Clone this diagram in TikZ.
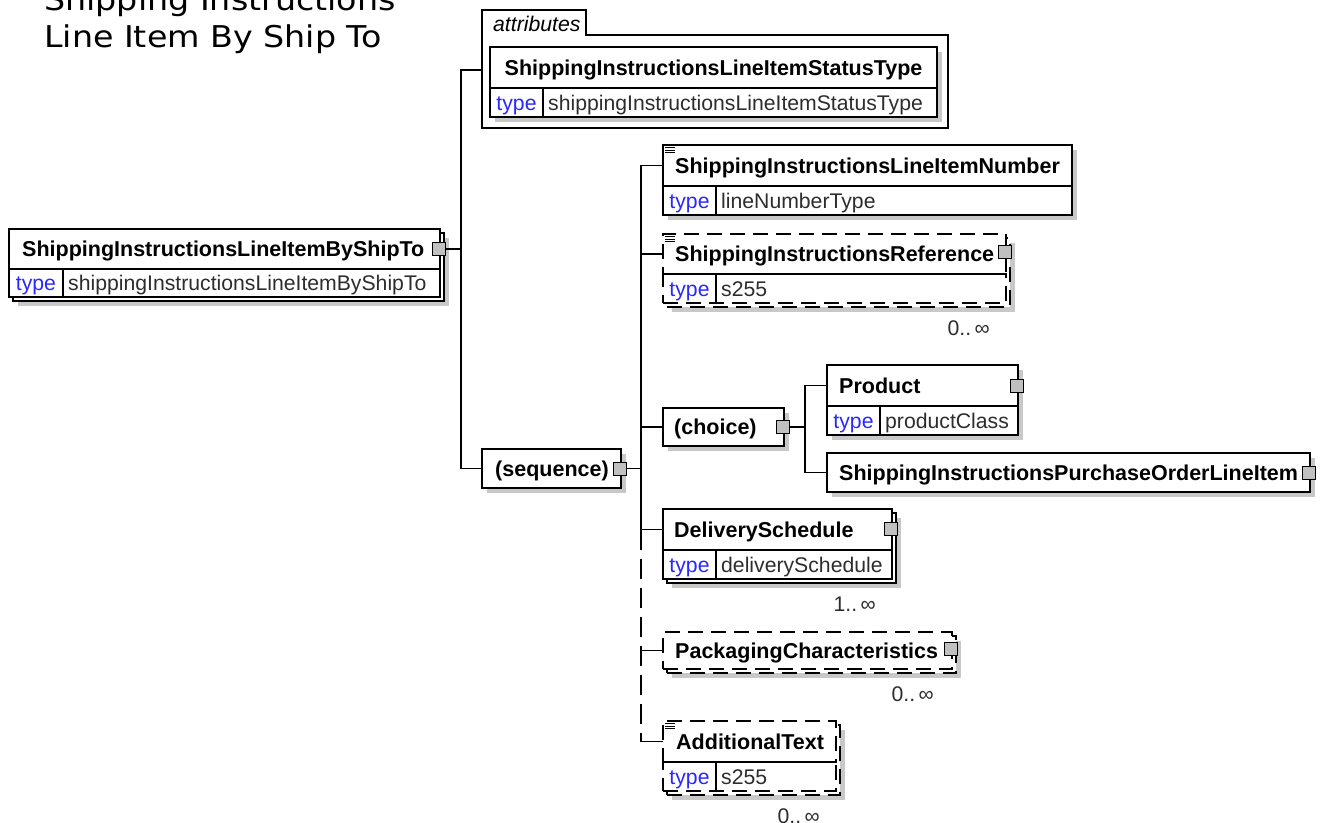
\documentclass[tikz,border=0pt]{standalone}
\usepackage{fontspec}
\setmainfont{Liberation Sans}
\newfontfamily\xtitlefont{DejaVu Sans}
\usetikzlibrary{shadows}
\definecolor{typeblue}{RGB}{40,40,255}
\definecolor{valgray}{RGB}{45,45,45}
\definecolor{shadowgray}{RGB}{200,200,200}
\definecolor{icongray}{RGB}{192,192,192}
\newcommand\xnamefont{\bfseries\fontsize{21.5}{24}\selectfont}
\newcommand\xtypefont{\fontsize{21.2}{24}\selectfont}
\begin{document}
\begin{tikzpicture}[x=1pt,y=-1pt,
  row/.style={draw, fill=white, line width=1.4pt, anchor=north west, inner sep=0pt, outer sep=0pt},
  shd/.style={drop shadow={shadow xshift=5pt, shadow yshift=-5pt, fill=shadowgray, opacity=1}},
  opt/.style={dash pattern=on 15pt off 8pt},
  nm/.style={font=\xnamefont, anchor=base west, inner sep=0pt},
  key/.style={font=\xtypefont, text=typeblue, text height=15pt, text depth=0pt, minimum height=29pt, inner sep=0pt, outer sep=0pt, anchor=north west},
  val/.style={font=\xtypefont, text=valgray, anchor=base west, inner sep=0pt},
  icn/.style={draw, fill=icongray, line width=1pt, minimum width=13pt, minimum height=13pt, inner sep=0pt, anchor=center},
  conn/.style={line width=1.4pt},
  card/.style={font=\xtypefont, text=valgray, anchor=base east, inner sep=0pt},
  menu/.style={line width=0.9pt},
  ttl/.style={font=\xtitlefont\fontsize{30}{36}\selectfont, anchor=base west, inner sep=0pt}]
\useasboundingbox (0,0) rectangle (1322,822);

% title
\node[ttl] (t1) at (44,10) {\scalebox{1.11}[1]{Shipping Instructions}};
\node[ttl] (t2) at (44,47) {\scalebox{1.11}[1]{Line Item By Ship To}};

% root element
\node[row, shd, minimum width=431pt, minimum height=68pt] (rootB) at (13,233) {};
\node[row, minimum width=431pt, minimum height=40pt] (rootN) at (9,229) {};
\node[row, minimum width=431pt, minimum height=28pt] (rootT) at (9,269) {};
\node[key, minimum width=54pt, minimum height=28pt] (rootK) at (rootT.north west) {type};
\draw[conn] (rootK.north east) -- (rootK.south east);
\node[nm] (rootL) at ([xshift=13pt,yshift=-7.7pt]rootN.west) {ShippingInstructionsLineItemByShipTo};
\node[val] (rootV) at ([xshift=5pt,yshift=-7.5pt]rootK.east) {shippingInstructionsLineItemByShipTo};
\node[icn] (rootI) at ([xshift=-1pt]rootN.east) {};

% attributes group
\draw[conn, fill=white] (482,35) -- (482,10) -- (586,10) -- (586,35) -- (948,35) -- (948,128) -- (482,128) -- cycle;
\node[anchor=base west, inner sep=0pt, font=\itshape\xtypefont] (attrLbl) at (493,31) {attributes};
\coordinate (attrW) at (482,70);
\node[row, shd, minimum width=447pt, minimum height=41pt] (atrN) at (490,47) {};
\node[row, shd, minimum width=447pt, minimum height=29pt] (atrT) at (490,88) {};
\node[key, minimum width=53pt] (atrK) at (atrT.north west) {type};
\draw[conn] (atrK.north east) -- (atrK.south east);
\node[nm, anchor=base] (atrL) at ([yshift=-7.7pt]atrN.center) {ShippingInstructionsLineItemStatusType};
\node[val] (atrV) at ([xshift=5pt,yshift=-7.5pt]atrK.east) {shippingInstructionsLineItemStatusType};

% ShippingInstructionsLineItemNumber
\node[row, shd, minimum width=409pt, minimum height=41pt] (numN) at (663,145) {};
\node[row, shd, minimum width=409pt, minimum height=29pt] (numT) at (663,186) {};
\node[key, minimum width=53pt] (numK) at (numT.north west) {type};
\draw[conn] (numK.north east) -- (numK.south east);
\node[nm] (numL) at ([xshift=12pt,yshift=-7.7pt]numN.west) {ShippingInstructionsLineItemNumber};
\node[val] (numV) at ([xshift=5pt,yshift=-7.5pt]numK.east) {lineNumberType};

% ShippingInstructionsReference
\node[row, opt, shd, minimum width=343pt, minimum height=69pt] (refB) at (667,238) {};
\node[row, opt, minimum width=343pt, minimum height=40pt] (refN) at (663,234) {};
\node[row, opt, minimum width=343pt, minimum height=29pt] (refT) at (663,274) {};
\draw[conn] (refT.north west) -- (refT.north east);
\node[key, minimum width=53pt] (refK) at (refT.north west) {type};
\draw[conn] (refK.north east) -- (refK.south east);
\node[nm] (refL) at ([xshift=12pt,yshift=-7.7pt]refN.west) {ShippingInstructionsReference};
\node[val] (refV) at ([xshift=5pt,yshift=-7.5pt]refK.east) {s255};
\node[icn] (refI) at ([xshift=-1pt,yshift=2pt]refN.east) {};
\node[card] (refC) at ([xshift=-20pt,yshift=-28pt]refB.south east) {0..\,∞};

% sequence
\node[row, shd, minimum width=139pt, minimum height=39pt] (seqN) at (482,449) {};
\node[nm] (seqL) at ([xshift=13pt,yshift=-7.7pt]seqN.west) {(sequence)};
\node[icn] (seqI) at ([xshift=-1pt]seqN.east) {};

% choice
\node[row, shd, minimum width=121pt, minimum height=38pt] (chN) at (663,408) {};
\node[nm] (chL) at ([xshift=11pt,yshift=-7.7pt]chN.west) {(choice)};
\node[icn] (chI) at ([xshift=-1pt]chN.east) {};

% Product
\node[row, shd, minimum width=191pt, minimum height=41pt] (prN) at (827,365) {};
\node[row, shd, minimum width=191pt, minimum height=29pt] (prT) at (827,406) {};
\node[key, minimum width=53pt] (prK) at (prT.north west) {type};
\draw[conn] (prK.north east) -- (prK.south east);
\node[nm] (prL) at ([xshift=12pt,yshift=-7.7pt]prN.west) {Product};
\node[val] (prV) at ([xshift=5pt,yshift=-7.5pt]prK.east) {productClass};
\node[icn] (prI) at ([xshift=-1pt]prN.east) {};

% ShippingInstructionsPurchaseOrderLineItem
\node[row, shd, minimum width=483pt, minimum height=39pt] (spN) at (827,453) {};
\node[nm] (spL) at ([xshift=12pt,yshift=-7.7pt]spN.west) {ShippingInstructionsPurchaseOrderLineItem};
\node[icn] (spI) at ([xshift=-1pt]spN.east) {};

% DeliverySchedule
\node[row, shd, minimum width=229pt, minimum height=70pt] (dsB) at (667,513) {};
\node[row, minimum width=229pt, minimum height=41pt] (dsN) at (663,509) {};
\node[row, minimum width=229pt, minimum height=29pt] (dsT) at (663,550) {};
\node[key, minimum width=53pt] (dsK) at (dsT.north west) {type};
\draw[conn] (dsK.north east) -- (dsK.south east);
\node[nm] (dsL) at ([xshift=11pt,yshift=-7.7pt]dsN.west) {DeliverySchedule};
\node[val] (dsV) at ([xshift=5pt,yshift=-7.5pt]dsK.east) {deliverySchedule};
\node[icn] (dsI) at ([xshift=-1pt,yshift=1pt]dsN.east) {};
\node[card] (dsC) at ([xshift=-20pt,yshift=-28pt]dsB.south east) {1..\,∞};

% PackagingCharacteristics
\node[row, opt, shd, minimum width=289pt, minimum height=37pt] (pkB) at (667,636) {};
\node[row, opt, minimum width=289pt, minimum height=37pt] (pkN) at (663,632) {};
\node[nm] (pkL) at ([xshift=12pt,yshift=-7.7pt]pkN.west) {PackagingCharacteristics};
\node[icn] (pkI) at ([xshift=-1pt,yshift=2pt]pkN.east) {};
\node[card] (pkC) at ([xshift=-22pt,yshift=-28pt]pkB.south east) {0..\,∞};

% AdditionalText
\node[row, opt, shd, minimum width=173pt, minimum height=70pt] (atB) at (667,725) {};
\node[row, opt, minimum width=173pt, minimum height=41pt] (atN) at (663,721) {};
\node[row, opt, minimum width=173pt, minimum height=29pt] (atT) at (663,762) {};
\draw[conn] (atT.north west) -- (atT.north east);
\node[key, minimum width=53pt] (atK) at (atT.north west) {type};
\draw[conn] (atK.north east) -- (atK.south east);
\node[nm] (atL) at ([xshift=13pt,yshift=-7.7pt]atN.west) {AdditionalText};
\node[val] (atV) at ([xshift=5pt,yshift=-7.5pt]atK.east) {s255};
\node[card] (atC) at ([xshift=-20pt,yshift=-28pt]atB.south east) {0..\,∞};

% menu marks
\foreach \n in {numN,refN,atN}
  \foreach \d in {2.5pt,5pt,7.5pt}
    \draw[menu] ([xshift=2pt,yshift=-\d]\n.north west) -- ++(10,0);

% connectors
\coordinate (j1) at (461,249);
\draw[conn] (rootI.east) -- (j1);
\draw[conn] (attrW) -- ++(-21,0) |- (seqN.west);
\coordinate (j2) at (641,468.5);
\draw[conn] (seqI.east) -- (j2);
\draw[conn] (numN.west) -- ++(-22,0) |- (dsN.west);
\draw[conn] (refN.west) -- ++(-22,0);
\draw[conn] (chN.west) -- ++(-22,0);
\draw[conn, dash pattern=on 20pt off 9pt] (dsN.west -| j2) -- (atN.west -| j2);
\draw[conn] (pkN.west) -- ++(-22,0);
\draw[conn] (atN.west) -- ++(-22,0);
\draw[conn] (chI.east) -- ++(15,0) coordinate (j3);
\draw[conn] (prN.west) -- ++(-22,0) |- (spN.west);
\end{tikzpicture}
\end{document}
